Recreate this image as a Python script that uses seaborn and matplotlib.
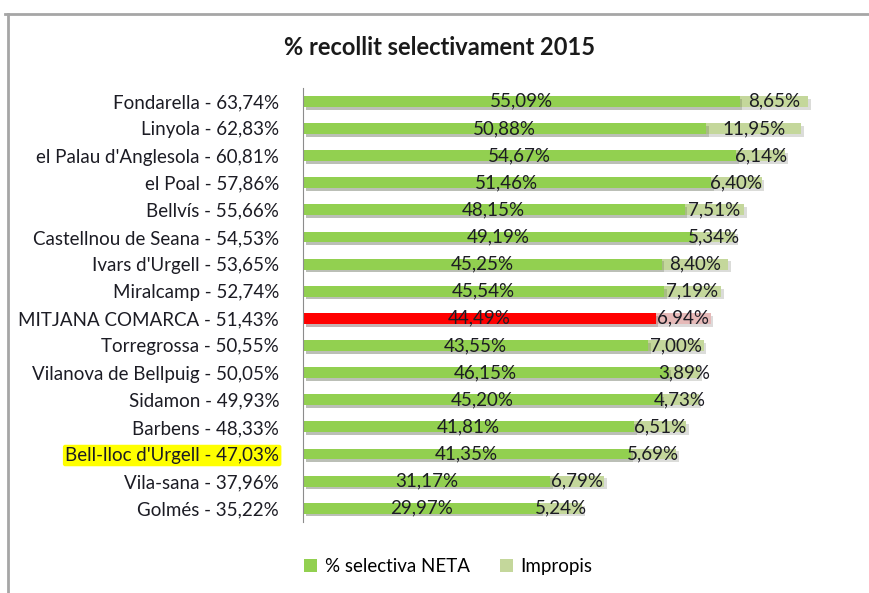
import matplotlib
matplotlib.use('Agg')
import pandas as pd
import seaborn as sns
import matplotlib.pyplot as plt
import matplotlib.patheffects as pe
from matplotlib.patches import Patch
from matplotlib.lines import Line2D

municipis = ["Fondarella", "Linyola", "el Palau d'Anglesola", "el Poal", "Bellvís",
             "Castellnou de Seana", "Ivars d'Urgell", "Miralcamp", "MITJANA COMARCA",
             "Torregrossa", "Vilanova de Bellpuig", "Sidamon", "Barbens",
             "Bell-lloc d'Urgell", "Vila-sana", "Golmés"]
totals = [63.74, 62.83, 60.81, 57.86, 55.66, 54.53, 53.65, 52.74, 51.43,
          50.55, 50.05, 49.93, 48.33, 47.03, 37.96, 35.22]
neta = [55.09, 50.88, 54.67, 51.46, 48.15, 49.19, 45.25, 45.54, 44.49,
        43.55, 46.15, 45.20, 41.81, 41.35, 31.17, 29.97]
impropis = [8.65, 11.95, 6.14, 6.40, 7.51, 5.34, 8.40, 7.19, 6.94,
            7.00, 3.89, 4.73, 6.51, 5.69, 6.79, 5.24]

mitjana = "MITJANA COMARCA"
destacat = "Bell-lloc d'Urgell"

def pct(v):
    return f"{v:.2f}".replace(".", ",") + "%"

df = pd.DataFrame({"municipi": municipis, "total": totals, "neta": neta, "impropis": impropis})
df["label"] = [f"{m} - {pct(t)}" for m, t in zip(df.municipi, df.total)]
df["stack"] = df.neta + df.impropis

green, light = "#92d050", "#c4d79b"
red, pink = "#ff0000", "#e6b9b8"
pal_neta = {l: (red if m == mitjana else green) for l, m in zip(df.label, df.municipi)}
pal_imp = {l: (pink if m == mitjana else light) for l, m in zip(df.label, df.municipi)}

plt.rcParams["font.family"] = ["Lato", "DejaVu Sans"]
fig = plt.figure(figsize=(8.7, 5.93), dpi=100)
ax = fig.add_axes([0.348, 0.12, 0.638, 0.732])

shadow = [pe.SimplePatchShadow(offset=(2, -2), alpha=0.18), pe.Normal()]
sns.barplot(data=df, x="stack", y="label", hue="label", palette=pal_imp, legend=False,
            width=0.4, saturation=1, orient="h", ax=ax)
sns.barplot(data=df, x="neta", y="label", hue="label", palette=pal_neta, legend=False,
            width=0.4, saturation=1, orient="h", ax=ax)
for p in ax.patches:
    p.set_path_effects(shadow)

txt = "#1c1c24"
fs = 13.5
for i, r in df.iterrows():
    ax.text(r.neta / 2, i, pct(r.neta), ha="center", va="center", fontsize=fs, color=txt)
    ax.text(r.neta + r.impropis / 2, i, pct(r.impropis), ha="center", va="center",
            fontsize=fs, color=txt)

ax.set_xlim(0, 70)
ax.set_xlabel("")
ax.set_ylabel("")
ax.xaxis.set_visible(False)
for s in ["top", "right", "bottom"]:
    ax.spines[s].set_visible(False)
ax.spines["left"].set_color("#8c8c8c")
ax.tick_params(axis="y", length=0, pad=17, labelsize=fs, labelcolor=txt)
for t in ax.get_yticklabels():
    if t.get_text().startswith(destacat):
        t.set_bbox(dict(facecolor="#ffff00", edgecolor="none", boxstyle="round,pad=0.12"))

fig.suptitle("% recollit selectivament 2015", x=0.505, y=0.94, fontsize=17,
             fontweight="bold", color="#1a1a1a")

handles = [Patch(facecolor=green, label="% selectiva NETA"),
           Patch(facecolor=light, label="Impropis")]
fig.legend(handles=handles, loc="center", bbox_to_anchor=(0.515, 0.045), ncol=2,
           frameon=False, fontsize=fs, handlelength=0.7, handleheight=0.7,
           handletextpad=0.4, columnspacing=1.6)

# marc del gràfic
fig.add_artist(Line2D([0.006, 1.0], [1 - 14 / 593] * 2, transform=fig.transFigure,
                      color="#a6a6a6", lw=2))
fig.add_artist(Line2D([8 / 870] * 2, [0, 1 - 14 / 593], transform=fig.transFigure,
                      color="#a6a6a6", lw=2))

fig.savefig("out.png", dpi=100)
